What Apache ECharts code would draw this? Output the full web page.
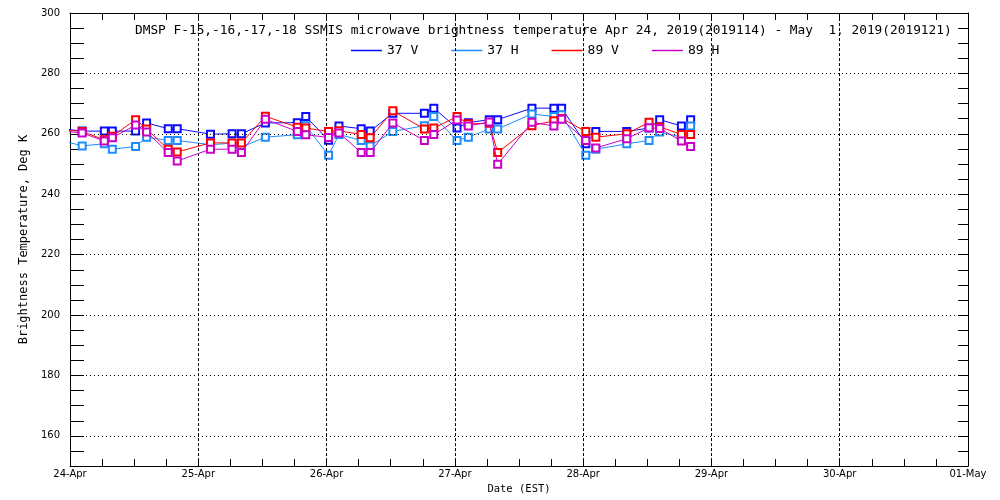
<!DOCTYPE html>
<html>
<head>
<meta charset="utf-8">
<title>DMSP SSMIS brightness temperature</title>
<script src="https://cdn.jsdelivr.net/npm/echarts@6/dist/echarts.min.js"></script>
<style>
  html, body { margin: 0; padding: 0; background: #fff; }
  #chart { width: 1000px; height: 500px; }
</style>
</head>
<body>
<div id="chart"></div>
<script>
// pass times, hours after 24-Apr-2019 00:00 EST (first one is before the axis start)
const hours = [-3.6, 2.28, 6.42, 7.92, 12.27, 14.33, 18.38, 20.06, 26.28, 30.33,
    32.07, 36.55, 42.53, 44.11, 48.37, 50.32, 54.48, 56.16, 60.40, 66.30,
    68.06, 72.41, 74.52, 78.44, 80.01, 86.42, 90.53, 91.97, 96.50, 98.37,
    104.16, 108.33, 110.32, 114.38, 116.11];

const tb37V = [262.2, 260.9, 260.9, 260.9, 260.9, 263.6, 261.7, 261.7, 259.9, 260.0,
    260.0, 263.6, 263.7, 265.7, 257.9, 262.6, 261.7, 260.9, 266.8, 266.8,
    268.5, 261.9, 263.7, 264.7, 264.7, 268.5, 268.5, 268.5, 256.7, 260.8,
    260.8, 261.9, 264.7, 262.6, 264.7];
const tb37H = [258.8, 256.0, 256.7, 254.9, 255.8, 258.9, 257.8, 257.8, 256.4, 256.9,
    255.6, 258.9, 259.7, 262.7, 252.9, 259.8, 257.8, 256.0, 260.8, 262.7,
    265.7, 257.8, 258.9, 261.6, 261.6, 266.6, 265.7, 266.3, 252.9, 254.9,
    256.7, 257.8, 260.6, 258.9, 262.6];
const tb89V = [261.6, 260.8, 258.0, 259.2, 264.7, 261.6, 254.9, 254.0, 257.0, 257.0,
    257.0, 265.8, 262.2, 261.9, 260.8, 261.0, 259.8, 258.7, 267.6, 261.6,
    261.9, 265.7, 263.3, 263.5, 253.8, 262.7, 264.3, 265.1, 260.8, 258.9,
    260.0, 263.8, 262.3, 259.8, 259.8];
const tb89H = [261.2, 260.3, 257.6, 258.7, 262.9, 260.6, 253.8, 251.0, 254.9, 254.9,
    253.8, 264.8, 260.8, 259.7, 258.8, 260.3, 253.8, 253.8, 263.6, 257.8,
    259.8, 264.6, 262.6, 263.9, 249.9, 263.8, 262.6, 264.8, 257.8, 255.3,
    258.4, 262.0, 261.8, 257.6, 255.8];

const channelNames = ['37 V', '37 H', '89 V', '89 H'];
const channelColors = ['#0a0aff', '#1e8cff', '#ff0000', '#c800c8'];
const dayLabels = ['24-Apr', '25-Apr', '26-Apr', '27-Apr', '28-Apr', '29-Apr', '30-Apr', '01-May'];
const dayGrid = [24, 48, 72, 96, 120, 144];
const yLabels = [160, 180, 200, 220, 240, 260, 280, 300];
const yGrid = [160, 180, 200, 220, 240, 260, 280];

const titleText = 'DMSP F-15,-16,-17,-18 SSMIS microwave brightness temperature Apr 24, 2019(2019114) - May  1, 2019(2019121)';

const mono = 'DejaVu Sans Mono';
const sans = 'DejaVu Sans';

function pairUp(vals) {
    return hours.map((h, i) => [h, vals[i]]);
}

const chart = echarts.init(document.getElementById('chart'));

// 6-hour ticks, labels only on whole days
const xCommon = {
    type: 'value',
    min: 0,
    max: 168,
    interval: 6,
    axisLine: { show: true, onZero: false, lineStyle: { color: '#000', width: 1 } },
    axisTick: { show: true, inside: true, length: 7, lineStyle: { color: '#000' } },
    splitLine: { show: false }
};

// 5 K ticks, labels every 20
const yCommon = {
    type: 'value',
    min: 150,
    max: 300,
    interval: 5,
    axisLine: { show: true, onZero: false, lineStyle: { color: '#000', width: 1 } },
    axisTick: { show: true, inside: true, length: 14, lineStyle: { color: '#000' } },
    splitLine: { show: false }
};

const series = [tb37V, tb37H, tb89V, tb89H].map((vals, i) => ({
    name: channelNames[i],
    type: 'line',
    data: pairUp(vals),
    symbol: 'emptyRect',
    symbolSize: 7,
    lineStyle: { color: channelColors[i], width: 1 },
    itemStyle: { color: channelColors[i], borderWidth: 1 },
    clip: true,
    z: 3 + i
}));

// dotted grid lines
series.push({
    type: 'line',
    data: [],
    silent: true,
    z: 1,
    markLine: {
        silent: true,
        symbol: ['none', 'none'],
        label: { show: false },
        lineStyle: { color: '#000', type: [1, 3], width: 1 },
        data: yGrid.map(v => ({ yAxis: v }))
            .concat(dayGrid.map(v => ({ xAxis: v, lineStyle: { type: [3, 2] } })))
    }
});

const option = {
    animation: false,
    backgroundColor: '#fff',
    title: {
        text: titleText,
        left: 135,
        top: 24,
        padding: 0,
        textStyle: { fontFamily: mono, fontSize: 12.8, fontWeight: 'normal', color: '#000' }
    },
    legend: {
        data: channelNames,
        left: 351,
        top: 44,
        padding: 0,
        icon: 'rect',
        itemWidth: 31,
        itemHeight: 1.5,
        itemGap: 33,
        textStyle: { fontFamily: mono, fontSize: 13, color: '#000' }
    },
    grid: { left: 70, right: 32, top: 13, bottom: 31, containLabel: false },
    xAxis: [
        Object.assign({}, xCommon, {
            position: 'bottom',
            name: 'Date (EST)',
            nameLocation: 'middle',
            nameGap: 16,
            nameTextStyle: { fontFamily: mono, fontSize: 10.5, color: '#000' },
            axisLabel: {
                margin: 3,
                fontFamily: sans,
                fontSize: 10,
                color: '#000',
                interval: 0,
                formatter: v => (v % 24 === 0 ? dayLabels[v / 24] : '')
            }
        }),
        Object.assign({}, xCommon, {
            position: 'top',
            axisLabel: { show: false }
        })
    ],
    yAxis: [
        Object.assign({}, yCommon, {
            position: 'left',
            name: 'Brightness Temperature, Deg K',
            nameLocation: 'middle',
            nameGap: 38,
            nameTextStyle: { fontFamily: mono, fontSize: 12, color: '#000' },
            axisLabel: {
                margin: 10,
                fontFamily: sans,
                fontSize: 10,
                color: '#000',
                formatter: v => (yLabels.indexOf(v) >= 0 ? String(v) : '')
            }
        }),
        Object.assign({}, yCommon, {
            position: 'right',
            axisTick: { show: true, inside: true, length: 10, lineStyle: { color: '#000' } },
            axisLabel: { show: false }
        })
    ],
    series: series
};

chart.setOption(option);
</script>
</body>
</html>
